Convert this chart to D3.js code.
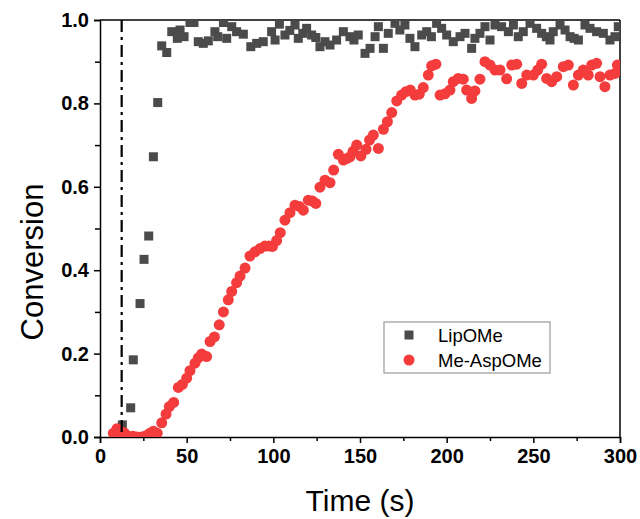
<!DOCTYPE html>
<html>
<head>
<meta charset="utf-8">
<script src="https://cdn.jsdelivr.net/npm/d3@7"></script>
<style>
  body { margin: 0; background: #fff; }
  text { font-family: Arial, "Liberation Sans", sans-serif; }
</style>
</head>
<body>
<div id="chart"></div>
<script>
// Conversion vs time, two series

const lipTime = [12.9, 17.7, 19.2, 23.1, 25.4, 28.1, 30.8, 33.3, 35.6, 38.5, 41.4, 44.6, 46.2, 48.5, 51.9, 54.2,
  56.7, 59.6, 62.5, 66.3, 67.9, 71.2, 73.1, 76, 78.8, 82.7, 87, 90.4, 94.2, 99, 101, 103.5, 106.7, 109.5, 112.5,
  114.4, 117, 119.2, 122.1, 124.5, 126.9, 129.8, 132.7, 136.5, 140.4, 144.2, 146.5, 149, 152.9, 155.8, 158.7,
  160.6, 163.5, 166.3, 170.2, 173, 175.9, 178.8, 181.7, 185.6, 188.5, 191.2, 194.2, 197.1, 200, 203.8, 207.7,
  210.6, 214.4, 216.3, 219.2, 222.1, 225, 227.9, 231.7, 235.6, 238.5, 241.3, 244.2, 248.1, 251.9, 254.8, 257.5,
  259.6, 261.5, 265.4, 268.3, 271.2, 273.5, 276, 279.8, 282.7, 286.5, 290.4, 294.2, 297.1, 299];
const lipConv = [0.029, 0.07, 0.185, 0.32, 0.426, 0.482, 0.672, 0.802, 0.938, 0.922, 0.972, 0.956, 0.976, 0.96, 0.994, 0.994,
  0.948, 0.944, 0.95, 0.972, 0.96, 0.994, 0.956, 0.984, 0.972, 0.966, 0.936, 0.944, 0.948, 0.972, 0.952, 0.99, 0.964, 0.975, 0.988,
  0.956, 0.968, 0.98, 0.964, 0.958, 0.936, 0.948, 0.94, 0.952, 0.972, 0.96, 0.952, 0.964, 0.92, 0.932, 0.96,
  0.984, 0.932, 0.968, 0.992, 0.976, 0.988, 0.956, 0.936, 0.964, 0.972, 0.96, 0.992, 0.98, 0.964, 0.948, 0.96,
  0.968, 0.932, 0.956, 0.968, 0.984, 0.952, 0.988, 0.984, 0.972, 0.988, 0.96, 0.972, 0.992, 0.98, 0.968, 0.96,
  0.952, 0.972, 0.988, 0.976, 0.96, 0.956, 0.952, 0.988, 0.98, 0.972, 0.968, 0.952, 0.96, 0.984];

const aspTime = [7.7, 9.8, 12, 14, 16.5, 19, 21.5, 24, 26.5, 28.8, 30.8, 33, 35.6, 38.1, 40, 42.5, 45.2, 47.5,
  50, 51.9, 54.8, 56.7, 58.7, 61.5, 63.5, 66, 68.8, 71.2, 74, 76, 78.8, 80.8, 83.7, 86.5, 89.4, 92.3, 95.2,
  97.5, 99.5, 101.9, 104, 106.7, 109.6, 112.5, 115, 117.3, 120.2, 122.5, 124.5, 126.9, 129.8, 132.7, 134.8,
  137.5, 140.4, 142.5, 144.2, 146, 148.1, 150.5, 153.5, 155.5, 157.7, 160.6, 163.5, 165.8, 168.3, 171.2, 174,
  176.5, 179, 181.7, 184.2, 186.5, 189.4, 191.3, 193.8, 196.2, 199, 201.9, 203.8, 206.7, 209.6, 211.5, 214.4,
  216.3, 219.2, 222.1, 225, 227.9, 230.8, 234.6, 237.5, 240.4, 243.3, 246.2, 250, 252.5, 254.8, 257.7, 260.6,
  263.5, 267.3, 270.2, 273.1, 276, 278.8, 281.7, 283.7, 286.5, 288.5, 291.3, 294.2, 297.1, 298.5];
const aspConv = [0.009, 0.02, 0.012, 0.01, 0.002, 0.002, 0, 0, 0.003, 0.009, 0.014, 0.009, 0.034, 0.055, 0.073, 0.083, 0.119, 0.126,
  0.141, 0.159, 0.177, 0.19, 0.199, 0.193, 0.229, 0.24, 0.269, 0.3, 0.329, 0.349, 0.37, 0.386, 0.405, 0.434, 0.444, 0.452, 0.458,
  0.458, 0.457, 0.471, 0.49, 0.52, 0.538, 0.556, 0.553, 0.544, 0.568, 0.566, 0.56, 0.599, 0.616, 0.61, 0.64,
  0.678, 0.664, 0.668, 0.672, 0.685, 0.7, 0.674, 0.69, 0.712, 0.724, 0.692, 0.738, 0.756, 0.778, 0.806, 0.82,
  0.828, 0.832, 0.82, 0.822, 0.838, 0.868, 0.89, 0.894, 0.82, 0.823, 0.832, 0.852, 0.86, 0.858, 0.832, 0.812,
  0.83, 0.858, 0.9, 0.892, 0.88, 0.88, 0.859, 0.892, 0.894, 0.848, 0.868, 0.868, 0.88, 0.894, 0.86, 0.852,
  0.864, 0.888, 0.892, 0.844, 0.868, 0.88, 0.868, 0.892, 0.896, 0.864, 0.84, 0.868, 0.872, 0.892];

const xTicks = [0, 50, 100, 150, 200, 250, 300];
const yTicks = [0.0, 0.2, 0.4, 0.6, 0.8, 1.0];
const seriesNames = ["LipOMe", "Me-AspOMe"];
const markerTime = 12.5; // dash-dot reference line

const width = 640, height = 519;
const margin = {top: 20, right: 20, bottom: 82, left: 100};
const w = width - margin.left - margin.right;
const h = height - margin.top - margin.bottom;

const grey = "#4b4b4b", red = "#f43c3c";

const svg = d3.select("#chart").append("svg")
  .attr("width", width).attr("height", height);

const g = svg.append("g").attr("transform", `translate(${margin.left},${margin.top})`);

const x = d3.scaleLinear().domain([0, 300]).range([0, w]);
const y = d3.scaleLinear().domain([0, 1]).range([h, 0]);

g.append("clipPath").attr("id", "clip")
  .append("rect").attr("width", w).attr("height", h);

// minor ticks
g.append("g").attr("transform", `translate(0,${h})`)
  .call(d3.axisBottom(x).tickValues(d3.range(25, 300, 50)).tickSize(4).tickFormat(""))
  .call(a => a.select(".domain").remove())
  .call(a => a.selectAll("line").attr("stroke-width", 1.5));
g.append("g")
  .call(d3.axisLeft(y).tickValues([0.1, 0.3, 0.5, 0.7, 0.9]).tickSize(5).tickFormat(""))
  .call(a => a.select(".domain").remove())
  .call(a => a.selectAll("line").attr("stroke-width", 1.5));

// major axes
g.append("g").attr("transform", `translate(0,${h})`)
  .call(d3.axisBottom(x).tickValues(xTicks).tickSize(6).tickPadding(6).tickFormat(d3.format("d")))
  .call(a => a.select(".domain").attr("stroke-width", 1.5))
  .call(a => a.selectAll("line").attr("stroke-width", 1.5))
  .call(a => a.selectAll("text").attr("font-size", 20).attr("font-weight", "bold").attr("fill", "#000"));

g.append("g")
  .call(d3.axisLeft(y).tickValues(yTicks).tickSize(6).tickPadding(5).tickFormat(d3.format(".1f")))
  .call(a => a.select(".domain").attr("stroke-width", 1.5))
  .call(a => a.selectAll("line").attr("stroke-width", 1.5))
  .call(a => a.selectAll("text").attr("font-size", 20).attr("font-weight", "bold").attr("fill", "#000"));

// top and right frame
g.append("line").attr("x1", 0).attr("x2", w).attr("y1", 0).attr("y2", 0)
  .attr("stroke", "#000").attr("stroke-width", 1.5);
g.append("line").attr("x1", w).attr("x2", w).attr("y1", 0).attr("y2", h)
  .attr("stroke", "#000").attr("stroke-width", 1.5);

const plot = g.append("g").attr("clip-path", "url(#clip)");

const sq = 9;
plot.selectAll("rect.lip")
  .data(d3.zip(lipTime, lipConv))
  .join("rect")
  .attr("class", "lip")
  .attr("x", d => x(d[0]) - sq / 2)
  .attr("y", d => y(d[1]) - sq / 2)
  .attr("width", sq).attr("height", sq)
  .attr("fill", grey);

plot.selectAll("circle.asp")
  .data(d3.zip(aspTime, aspConv))
  .join("circle")
  .attr("class", "asp")
  .attr("cx", d => x(d[0]))
  .attr("cy", d => y(d[1]))
  .attr("r", 5.5)
  .attr("fill", red);

// dash-dot line
g.append("line")
  .attr("x1", x(markerTime)).attr("x2", x(markerTime))
  .attr("y1", 0).attr("y2", h)
  .attr("stroke", "#000").attr("stroke-width", 2.2)
  .attr("stroke-dasharray", "12,5,3,5");

// axis titles
svg.append("text")
  .attr("x", margin.left + w / 2).attr("y", 511)
  .attr("text-anchor", "middle").attr("font-size", 30)
  .text("Time (s)");
svg.append("text")
  .attr("transform", `translate(43,262) rotate(-90)`)
  .attr("text-anchor", "middle").attr("font-size", 31)
  .text("Conversion");

// legend
const leg = svg.append("g").attr("transform", "translate(384,322)");
leg.append("rect").attr("width", 166).attr("height", 51)
  .attr("fill", "#fff").attr("stroke", "#999").attr("stroke-width", 1.2);
leg.append("rect").attr("x", 25 - sq / 2).attr("y", 13 - sq / 2)
  .attr("width", sq).attr("height", sq).attr("fill", grey);
leg.append("circle").attr("cx", 25).attr("cy", 38).attr("r", 5.5).attr("fill", red);
leg.selectAll("text.lab")
  .data(seriesNames)
  .join("text")
  .attr("class", "lab")
  .attr("x", 54).attr("y", (d, i) => 13 + i * 25)
  .attr("dy", "0.36em")
  .attr("font-size", 18.5)
  .text(d => d);
</script>
</body>
</html>
